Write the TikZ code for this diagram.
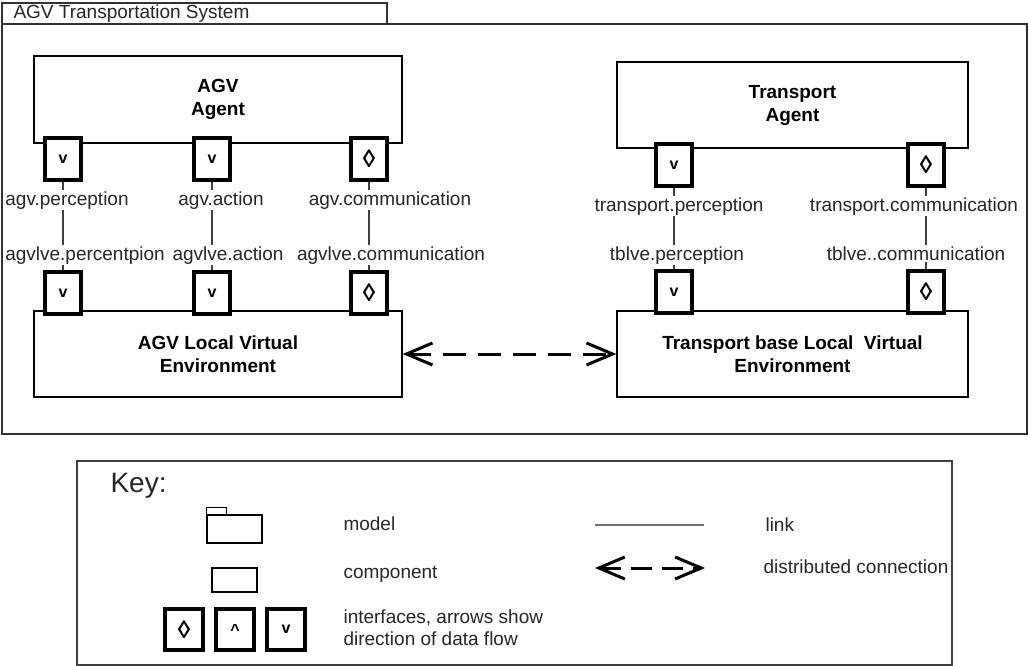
\documentclass[tikz,border=0pt]{standalone}
\usepackage{fontspec}
\setmainfont{Liberation Sans}
\usepackage{tikz}
\usetikzlibrary{arrows.meta}

\newcommand{\lozsym}{{\fontsize{25}{25}\selectfont ◊}}

\tikzset{
  box/.style={draw, line width=1.2pt, align=center, font=\bfseries\fontsize{19}{23}\selectfont},
  port/.style={draw, line width=4pt, fill=white, minimum width=36pt, minimum height=42pt,
    inner sep=0pt, font=\bfseries\fontsize{16}{16}\selectfont},
  lbl/.style={fill=white, inner sep=1.5pt, anchor=base, text=black!85, font=\fontsize{19}{22}\selectfont},
  keytext/.style={anchor=base west, text=black!85, font=\fontsize{19}{22}\selectfont},
  link/.style={line width=1.3pt, black!75},
  distconn/.style={line width=3pt, dash pattern=on 23pt off 12pt,
    {Straight Barb[length=26pt,width=22pt]}-{Straight Barb[length=26pt,width=22pt]}},
}

\begin{document}
\begin{tikzpicture}[x=1pt,y=-1pt]
        \useasboundingbox (0,0) rectangle (1028,666);
        % model with its tab
        \draw[line width=1.3pt, black!80] (2,24) rectangle (1027,434);
        \draw[line width=1.3pt, black!80] (2,24) -- (2,3) -- (387,3) -- (387,24);
        \node[keytext] (sysname) at (10,19) {AGV Transportation System};

        % components
        \node[box, minimum width=368pt, minimum height=87pt] (agv) at (218,99.5) {AGV\\Agent};
        \node[box, minimum width=351pt, minimum height=86pt] (tra) at (792.5,105) {Transport\\Agent};
        \node[box, minimum width=368pt, minimum height=86pt] (agvlve) at (218,354) {AGV Local Virtual\\Environment};
        \node[box, minimum width=351pt, minimum height=86pt] (tblve) at (792.5,354) {Transport base Local\ \ Virtual\\Environment};

        % interfaces and links
        \foreach \n/\x/\s in {ap/63/v, aa/212/v, ac/369/\lozsym}
        \node[port] (\n1) at (\x,159) {\s} node[port] (\n2) at (\x,293) {\s};
        \foreach \n/\x/\s in {tp/674/v, tc/926/\lozsym}
        \node[port] (\n1) at (\x,165) {\s} node[port] (\n2) at (\x,292) {\s};
        \foreach \n in {ap, aa, ac, tp, tc}
        \draw[link] (\n1) -- (\n2);

        \node[lbl] (apa) at (67,205) {agv.perception};
        \node[lbl] (aaa) at (221,205) {agv.action};
        \node[lbl] (aca) at (390,205) {agv.communication};
        \node[lbl] (apb) at (85,260) {agvlve.percentpion};
        \node[lbl] (aab) at (228,260) {agvlve.action};
        \node[lbl] (acb) at (391,260) {agvlve.communication};
        \node[lbl] (tpa) at (679,211) {transport.perception};
        \node[lbl] (tca) at (914,211) {transport.communication};
        \node[lbl] (tpb) at (677,260) {tblve.perception};
        \node[lbl] (tcb) at (916,260) {tblve..communication};

        \draw[distconn] (agvlve) -- (tblve);

        % key
        \node[draw, line width=1.5pt, black!75, minimum width=875pt, minimum height=204pt] (key) at (514.5,563) {};
        \node[anchor=base west, text=black!85, font=\fontsize{28}{28}\selectfont] (keyname) at (107,492) {Key:};
        \node[draw, line width=1.2pt, minimum width=55pt, minimum height=28pt] (model) at (234.5,529) {};
        \draw[line width=1.2pt] (model.north west) -- ++(0,-7) -- ++(20,0) -- ++(0,7);
        \node[draw, line width=1.2pt, minimum width=45pt, minimum height=24pt] (comp) at (234.5,580) {};
        \foreach \n/\x/\s in {kboth/184/\lozsym, kup/235/\textasciicircum, kdown/286/v}
        \node[port, minimum width=38pt, minimum height=41pt] (\n) at (\x,629.5) {\s};
        \node[keytext] (modeltxt) at (340,530) {model};
        \node[keytext] (comptxt) at (340,578) {component};
        \node[keytext] (porttxt) at (340,623) {interfaces, arrows show};
        \node[keytext] (porttxt2) at (340,645) {direction of data flow};

        \coordinate (la) at (595,525);
        \coordinate (lb) at (704,525);
        \draw[line width=2pt, black!55] (la) -- (lb);
        \node[keytext] (linktxt) at (762,531) {link};
        \coordinate (da) at (595,568);
        \coordinate (db) at (705,568);
        \draw[distconn, dash pattern=on 21pt off 10pt] (da) -- (db);
        \node[keytext] (disttxt) at (760,573) {distributed connection};
\end{tikzpicture}
\end{document}
